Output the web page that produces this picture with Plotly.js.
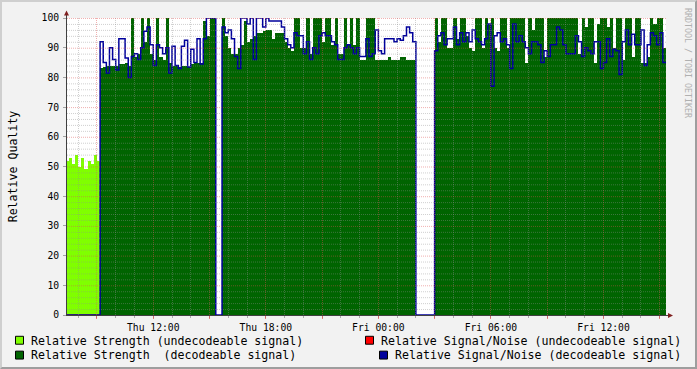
<!DOCTYPE html>
<html>
<head>
<meta charset="utf-8">
<script src="https://cdn.plot.ly/plotly-3.0.1.min.js"></script>
<style>
html,body{margin:0;padding:0;background:#f2f2f2;}
#wrap{position:relative;width:697px;height:369px;}
#chart{width:697px;height:369px;}
#frame{position:absolute;left:0;top:0;width:697px;height:369px;box-sizing:border-box;border-style:solid;border-width:2px;border-color:#cfcfcf #9e9e9e #9e9e9e #cfcfcf;pointer-events:none;}
</style>
</head>
<body>
<div id="wrap"><div id="chart"></div><div id="frame"></div></div>
<script>
// ---- data (10-minute samples) ----
const seriesStart = '2008-01-03T07:20:00Z';   // first undecodeable sample
const stepMinutes = 10;
const undecodeableCount = 11;                  // 07:20 .. 09:00

const strengthUndecodeable = [52, 53, 51, 54, 50, 53, 49, 52, 51, 54, 52];
const snrUndecodeable = [0, 0, 0, 0, 0, 0, 0, 0, 0, 0, 0];

// decodeable period starts 09:10 Thu, last sample 15:10 Fri
const strengthDecodeable = [
  83, 83.5, 84, 84, 84, 84, 84.5, 84.5, 85, 84,
  100, 87, 88, 100, 92, 100, 88, 86, 100, 87, 86, 100,
  85, 84, 84, 83.5, 84, 84, 83.5, 84.5, 85, 85, 85,
  99, 94, 100, 100,
  null, null,
  100, 94, 90, 88, 88, 90, 91, 99, 92, 93, 94, 95, 95, 95.5, 96, 96,
  93, 95, 95, 95, 92, 90, 89, 100, 100, 90, 90, 100, 88, 100, 100, 100, 92, 100, 100, 91,
  100, 88, 88, 100, 91, 100, 91, 100, 86, 86,
  100, 100, 100, 86, 86, 86, 86, 87, 86, 86, 86, 87, 87, 86, 86, 86,
  null, null, null, null, null, null,
  100, 92, 100, 100, 90, 90, 100, 93, 100, 100, 94,
  90, 89, 100, 100, 90, 100, 98, 100, 90, 89, 100, 100, 90, 100, 100, 100, 100, 100, 85, 100,
  96, 100, 100, 100, 87, 100, 100, 100, 100, 100, 100, 100,
  100, 100, 100, 88, 100, 97, 100, 100, 85, 98, 100, 100, 97, 100, 90, 100, 100, 86, 100, 100,
  87, 100, 100, 85, 85, 87, 100, 98, 100, 100, 90
];

// decodeable S/N over the whole timeline (0 while no decodeable signal)
const snrDecodeable = [
  0, 0, 0, 0, 0, 0, 0, 0, 0, 0, 0,
  92, 85, 81.5, 90, 86, 82.5, 93, 93, 86.5, 80, 87, 88, 86, 90, 95.5, 97, 91, 84, 91, 90, 88, 90,
  81.5, 90.5, 84, 83, 90.5, 92.5, 83.5, 89.5, 85, 93, 84.5,
  93, 100, 100, 100,
  0, 0,
  97, 95, 96, 93, 87, 83, 100, 100, 98, 100, 86, 100, 100, 97, 100, 99,
  99, 99, 99, 97, 93, 91, 90, 95, 94, 94, 88, 92, 86, 90, 88, 94, 95, 94, 94, 92,
  91, 86, 86, 90, 91, 90, 88, 90, 87, 87,
  93, 87, 88, 96, 89, 88, 93, 93, 93, 92, 93, 92.5, 94, 97, 95, 92,
  0, 0, 0, 0, 0, 0,
  89, 94, 95, 91, 93, 93, 97, 91, 95, 92, 95,
  92, 96, 93, 92, 91, 93, 98, 77, 94, 95, 92, 93, 91, 83, 98, 92, 94, 92, 90, 88,
  92, 92, 91, 85, 89, 87, 91, 91, 97, 96, 91, 88,
  88, 88, 94, 92, 87, 90, 89, 88, 92, 92, 83, 85, 93, 87, 89.5, 89, 81, 92, 96, 91,
  94.5, 91, 91, 96, 84, 91, 95, 94, 91, 95, 85
];

const xTickTimes = ['2008-01-03 09:00','2008-01-03 12:00','2008-01-03 15:00','2008-01-03 18:00',
  '2008-01-03 21:00','2008-01-04 00:00','2008-01-04 03:00','2008-01-04 06:00',
  '2008-01-04 09:00','2008-01-04 12:00','2008-01-04 15:00'];
const xTickLabels = ['','Thu 12:00','','Thu 18:00','','Fri 00:00','','Fri 06:00','','Fri 12:00',''];
const yTickVals = [0,10,20,30,40,50,60,70,80,90,100];
const yTickLabels = ['0','10','20','30','40','50','60','70','80','90','100'];
const xRange = ['2008-01-03 07:24:10','2008-01-04 15:20:00'];

const legendLabels = [
  'Relative Strength (undecodeable signal)',
  'Relative Strength\u00a0 (decodeable signal)',
  'Relative Signal/Noise (undecodeable signal)',
  'Relative Signal/Noise (decodeable signal)'
];
const colUndecStrength = '#80ff00';
const colDecStrength = '#006400';
const colUndecSnr = '#ff0000';
const colDecSnr = '#00009c';

// ---- build ----
const stepMs = stepMinutes * 60000;
const startMs = Date.parse(seriesStart);
function fmt(ms){ return new Date(ms).toISOString().replace('T',' ').slice(0,19); }
function timesFrom(offset, n){ const a=[]; for(let k=0;k<n;k++) a.push(fmt(startMs + (offset+k)*stepMs)); return a; }

const tUndec = timesFrom(0, strengthUndecodeable.length);
const tDec = timesFrom(undecodeableCount, strengthDecodeable.length);
const tAll = timesFrom(0, snrDecodeable.length);
const tEnd = fmt(startMs + snrDecodeable.length*stepMs);

const traces = [
  {type:'bar', x:tUndec, y:strengthUndecodeable, width:stepMs, offset:0,
   marker:{color:colUndecStrength, line:{width:0}}, name:legendLabels[0], showlegend:false, hoverinfo:'skip'},
  {type:'bar', x:tDec, y:strengthDecodeable, width:stepMs, offset:0,
   marker:{color:colDecStrength, line:{width:0}}, name:legendLabels[1], showlegend:false, hoverinfo:'skip'},
  {type:'scatter', mode:'lines', x:tUndec.concat([fmt(startMs+undecodeableCount*stepMs)]),
   y:snrUndecodeable.concat([snrUndecodeable[snrUndecodeable.length-1]]),
   line:{color:colUndecSnr, width:1, shape:'hv'}, name:legendLabels[2], showlegend:false, hoverinfo:'skip'},
  {type:'scatter', mode:'lines', x:tAll.concat([tEnd]),
   y:snrDecodeable.concat([snrDecodeable[snrDecodeable.length-1]]),
   line:{color:colDecSnr, width:1.5, shape:'hv'}, name:legendLabels[3], showlegend:false, hoverinfo:'skip'}
];

// geometry
const L=67, T=15, W=599, H=300;
const tMin = Date.parse(xRange[0].replace(' ','T')+'Z');
const tMax = Date.parse(xRange[1].replace(' ','T')+'Z');
const xp = px => (px-L)/W;
const yp = py => (T+H-py)/H;

const minorCol = 'rgba(143,143,143,0.42)';
const majorCol = 'rgba(222,79,79,0.45)';
const shapes = [];
// vertical grid, hourly (major every 3 h)
const firstHour = Math.ceil(tMin/3600000)*3600000;
for(let t=firstHour; t<tMax; t+=3600000){
  const px = L + (t-tMin)/(tMax-tMin)*W;
  const c = Math.floor(px)+0.5;
  const major = (new Date(t).getUTCHours() % 3) === 0;
  shapes.push({type:'line', xref:'paper', yref:'paper', x0:xp(c), x1:xp(c), y0:0, y1:1, layer:'above',
    line:{color: major?majorCol:minorCol, width:1, dash:'1px,1px'}});
}
// horizontal grid, every 2 (major every 10)
for(let v=2; v<=100; v+=2){
  const y = (3*v-0.5)/H;
  const major = v % 10 === 0;
  shapes.push({type:'line', xref:'paper', yref:'paper', x0:0, x1:1, y0:y, y1:y, layer:'above',
    line:{color: major?majorCol:minorCol, width:1, dash:'1px,1px'}});
}
// axis extensions + arrows
shapes.push({type:'line', xref:'paper', yref:'paper', x0:xp(66.5), x1:xp(66.5), y0:yp(15), y1:yp(12), layer:'above', line:{color:'#404040', width:1}});
shapes.push({type:'line', xref:'paper', yref:'paper', x0:xp(666), x1:xp(668.5), y0:yp(315.5), y1:yp(315.5), layer:'above', line:{color:'#404040', width:1}});
function tri(pts){ return 'M' + pts.map(p => xp(p[0]).toFixed(5)+','+yp(p[1]).toFixed(5)).join(' L') + ' Z'; }
shapes.push({type:'path', xref:'paper', yref:'paper', layer:'above', path: tri([[64,12.5],[69,12.5],[66.5,7.5]]), fillcolor:'#802020', line:{width:0}});
shapes.push({type:'path', xref:'paper', yref:'paper', layer:'above', path: tri([[668,313],[668,318],[673,315.5]]), fillcolor:'#802020', line:{width:0}});

// legend (boxes + labels)
const legendPos = [
  {box:[15,336], tx:30, ty:341, color:colUndecStrength},
  {box:[15,351], tx:30, ty:355.5, color:colDecStrength},
  {box:[365,336], tx:380, ty:341, color:colUndecSnr},
  {box:[379,351], tx:394, ty:355.5, color:colDecSnr}
];
const annotations = [];
legendPos.forEach((p,i) => {
  shapes.push({type:'rect', xref:'paper', yref:'paper', layer:'above',
    x0:xp(p.box[0]+0.5), x1:xp(p.box[0]+8.5), y0:yp(p.box[1]+0.5), y1:yp(p.box[1]+8.5),
    fillcolor:p.color, line:{color:'#000', width:1}});
  annotations.push({xref:'paper', yref:'paper', x:xp(p.tx-1), y:yp(p.ty), xanchor:'left', yanchor:'middle',
    showarrow:false, text:legendLabels[i], font:{family:'DejaVu Sans Mono', size:11.6, color:'#000'}});
});
annotations.push({xref:'paper', yref:'paper', x:xp(688.5), y:yp(60), xanchor:'center', yanchor:'middle',
  showarrow:false, textangle:90, text:'RRDTOOL / TOBI OETIKER', font:{family:'DejaVu Sans Mono', size:8.3, color:'#b0b0b0'}});

const layout = {
  width:697, height:369,
  margin:{l:L, r:697-L-W, t:T, b:369-T-H, pad:0},
  paper_bgcolor:'#f2f2f2', plot_bgcolor:'#ffffff',
  font:{family:'DejaVu Sans Mono', color:'#000', size:10},
  barmode:'overlay', bargap:0, showlegend:false,
  xaxis:{type:'date', range:xRange, tickmode:'array', tickvals:xTickTimes, ticktext:xTickLabels,
    ticks:'outside', ticklen:3, tickcolor:'rgba(222,79,79,0.7)', tickfont:{size:9.7},
    showgrid:false, zeroline:false, showline:true, linecolor:'#404040', linewidth:1, fixedrange:true,
    minor:{tickmode:'linear', tick0:'2008-01-03 00:00', dtick:3600000, ticks:'outside', ticklen:2,
      tickcolor:'rgba(143,143,143,0.7)', showgrid:false}},
  yaxis:{range:[0,100], tickmode:'array', tickvals:yTickVals, ticktext:yTickLabels,
    ticks:'outside', ticklen:3, tickcolor:'rgba(143,143,143,0.8)', tickfont:{size:9.7},
    ticklabelstandoff:2,
    showgrid:false, zeroline:false, showline:true, linecolor:'#404040', linewidth:1, fixedrange:true,
    automargin:true,
    title:{text:'Relative Quality', font:{size:11.6}, standoff:21}},
  shapes:shapes, annotations:annotations
};

Plotly.newPlot('chart', traces, layout, {displayModeBar:false, staticPlot:true});
</script>
</body>
</html>
